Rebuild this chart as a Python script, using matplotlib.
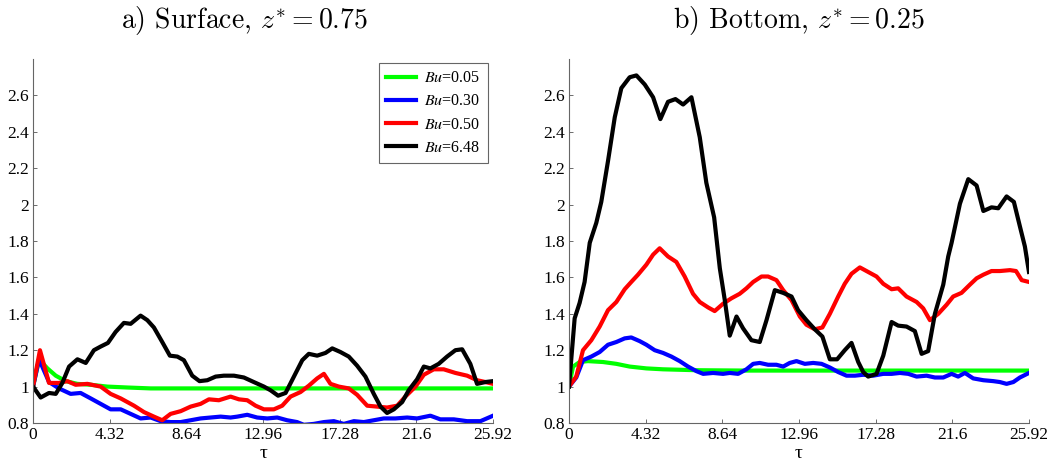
import matplotlib
matplotlib.use("Agg")
import matplotlib.pyplot as plt
from matplotlib.ticker import FuncFormatter

plt.rcParams['font.family'] = ['Liberation Serif', 'DejaVu Serif']
plt.rcParams['mathtext.fontset'] = 'stix'

labels = ['$Bu$=0.05', '$Bu$=0.30', '$Bu$=0.50', '$Bu$=6.48']
colors = ['#00ff00', '#0000ff', '#ff0000', '#000000']
xticks = [0, 4.32, 8.64, 12.96, 17.28, 21.6, 25.92]
xtick_labels = ['0', '4.32', '8.64', '12.96', '17.28', '21.6', '25.92']

# ---- a) Surface, z* = 0.75 ----
t_s_green = [0, 0.34, 0.81, 1.28, 1.84, 2.50, 3.25, 4.19, 5.31, 6.63, 10, 15, 20, 25.92]
v_s_green = [1.0, 1.15, 1.10, 1.06, 1.03, 1.015, 1.01, 1.0, 0.995, 0.99, 0.99, 0.99, 0.99, 0.99]

t_s_blue = [0, 0.34, 0.90, 1.46, 2.12, 2.68, 3.25, 3.81, 4.37, 4.94,
            5.50, 6.06, 6.63, 7.19, 7.75, 8.32, 8.88, 9.44, 10.00, 10.57,
            11.13, 11.51, 12.07, 12.63, 13.20, 13.76, 14.32, 14.88, 15.26, 15.82,
            16.39, 16.95, 17.51, 18.08, 18.64, 19.20, 19.76, 20.42, 21.08, 21.64,
            22.39, 22.95, 23.71, 24.46, 25.21, 25.92]
v_s_blue = [1.0, 1.15, 1.025, 0.99, 0.96, 0.965, 0.935, 0.905, 0.875, 0.875,
            0.85, 0.825, 0.83, 0.81, 0.805, 0.805, 0.815, 0.825, 0.83, 0.835,
            0.83, 0.835, 0.845, 0.83, 0.825, 0.83, 0.815, 0.805, 0.79, 0.795,
            0.805, 0.81, 0.795, 0.81, 0.805, 0.815, 0.825, 0.825, 0.83, 0.825,
            0.84, 0.82, 0.82, 0.81, 0.81, 0.84]

t_s_red = [0, 0.39, 0.90, 1.46, 1.93, 2.40, 3.06, 3.81, 4.37, 4.94,
           5.69, 6.25, 6.81, 7.28, 7.75, 8.32, 8.88, 9.44, 9.91, 10.47,
           11.13, 11.60, 12.07, 12.54, 13.01, 13.57, 14.04, 14.51, 15.07, 15.54,
           16.01, 16.39, 16.76, 17.23, 17.79, 18.26, 18.83, 19.39, 19.95, 20.52,
           20.98, 21.55, 22.02, 22.58, 23.14, 23.80, 24.46, 25.02, 25.49, 25.92]
v_s_red = [1.0, 1.2, 1.02, 1.02, 1.03, 1.01, 1.015, 1.0, 0.96, 0.935,
           0.895, 0.86, 0.835, 0.815, 0.85, 0.865, 0.89, 0.905, 0.93, 0.925,
           0.945, 0.93, 0.925, 0.895, 0.875, 0.875, 0.895, 0.945, 0.97, 1.005,
           1.045, 1.07, 1.015, 1.0, 0.99, 0.955, 0.895, 0.89, 0.885, 0.895,
           0.945, 1.0, 1.065, 1.095, 1.095, 1.075, 1.06, 1.035, 1.025, 1.015]

t_s_black = [0, 0.43, 0.90, 1.28, 1.65, 2.03, 2.50, 2.97, 3.43, 3.81,
             4.22, 4.65, 5.12, 5.50, 6.06, 6.44, 6.81, 7.28, 7.71, 8.13,
             8.50, 8.97, 9.38, 9.82, 10.29, 10.75, 11.32, 11.88, 12.44, 13.01,
             13.38, 13.81, 14.23, 14.70, 15.17, 15.54, 16.01, 16.48, 16.86, 17.32,
             17.79, 18.26, 18.73, 19.20, 19.58, 19.95, 20.33, 20.80, 21.17, 21.64,
             22.02, 22.39, 22.86, 23.33, 23.80, 24.18, 24.64, 25.02, 25.49, 25.92]
v_s_black = [1.0, 0.94, 0.965, 0.96, 1.02, 1.11, 1.15, 1.13, 1.2, 1.22,
             1.24, 1.30, 1.35, 1.345, 1.39, 1.365, 1.325, 1.245, 1.17, 1.165,
             1.145, 1.06, 1.03, 1.035, 1.055, 1.06, 1.06, 1.05, 1.025, 1.0,
             0.98, 0.95, 0.965, 1.055, 1.145, 1.18, 1.17, 1.185, 1.21, 1.19,
             1.165, 1.115, 1.055, 0.96, 0.89, 0.855, 0.875, 0.915, 0.98, 1.04,
             1.11, 1.10, 1.125, 1.165, 1.20, 1.205, 1.125, 1.015, 1.025, 1.03]

# ---- b) Bottom, z* = 0.25 ----
t_b_green = [0, 0.23, 0.60, 1.07, 1.92, 2.67, 3.42, 4.36, 5.30, 7.18, 10, 15, 20, 25.92]
v_b_green = [1.0, 1.11, 1.135, 1.14, 1.135, 1.125, 1.11, 1.10, 1.095, 1.09, 1.088, 1.088, 1.088, 1.088]

t_b_blue = [0, 0.41, 0.79, 1.26, 1.73, 2.20, 2.67, 3.14, 3.51, 3.98,
            4.36, 4.83, 5.30, 5.77, 6.24, 6.71, 7.18, 7.56, 8.12, 8.68,
            9.06, 9.53, 10.00, 10.38, 10.75, 11.22, 11.69, 12.07, 12.44, 12.82,
            13.29, 13.76, 14.23, 14.70, 15.17, 15.64, 16.11, 16.58, 17.14, 17.71,
            18.18, 18.65, 19.12, 19.59, 20.15, 20.62, 21.09, 21.56, 21.93, 22.31,
            22.78, 23.35, 23.91, 24.28, 24.66, 25.04, 25.41, 25.92]
v_b_blue = [1.0, 1.05, 1.145, 1.165, 1.19, 1.23, 1.245, 1.265, 1.27, 1.25,
            1.23, 1.20, 1.185, 1.165, 1.14, 1.11, 1.085, 1.07, 1.075, 1.07,
            1.075, 1.07, 1.095, 1.125, 1.13, 1.12, 1.12, 1.11, 1.13, 1.14,
            1.125, 1.13, 1.125, 1.105, 1.08, 1.06, 1.06, 1.065, 1.06, 1.07,
            1.07, 1.075, 1.07, 1.055, 1.06, 1.05, 1.05, 1.07, 1.055, 1.075,
            1.045, 1.035, 1.03, 1.025, 1.015, 1.025, 1.05, 1.075]

t_b_red = [0, 0.41, 0.79, 1.26, 1.73, 2.20, 2.67, 3.14, 3.51, 3.89,
           4.36, 4.74, 5.11, 5.58, 6.05, 6.52, 6.99, 7.37, 7.84, 8.21,
           8.68, 9.15, 9.62, 10.00, 10.38, 10.85, 11.22, 11.69, 12.07, 12.54,
           13.01, 13.38, 13.85, 14.28, 14.70, 15.17, 15.54, 15.92, 16.39, 16.86,
           17.33, 17.71, 18.18, 18.55, 19.02, 19.59, 19.96, 20.34, 20.81, 21.28,
           21.65, 22.12, 22.59, 22.97, 23.35, 23.81, 24.28, 24.85, 25.19, 25.51, 25.92]
v_b_red = [1.0, 1.055, 1.2, 1.255, 1.33, 1.42, 1.465, 1.535, 1.575, 1.615,
           1.67, 1.725, 1.76, 1.715, 1.685, 1.605, 1.51, 1.465, 1.435, 1.415,
           1.455, 1.485, 1.51, 1.54, 1.575, 1.605, 1.605, 1.585, 1.53, 1.475,
           1.385, 1.34, 1.315, 1.325, 1.40, 1.495, 1.565, 1.62, 1.655, 1.63,
           1.605, 1.565, 1.535, 1.54, 1.495, 1.465, 1.43, 1.365, 1.40, 1.45,
           1.495, 1.515, 1.56, 1.595, 1.615, 1.635, 1.635, 1.64, 1.635, 1.585, 1.575]

t_b_black = [0, 0.32, 0.60, 0.88, 1.17, 1.54, 1.82, 2.20, 2.58, 2.95,
             3.42, 3.80, 4.27, 4.74, 5.15, 5.58, 6.00, 6.43, 6.90, 7.37,
             7.74, 8.18, 8.50, 8.78, 9.06, 9.44, 9.81, 10.28, 10.75, 11.13,
             11.60, 12.07, 12.54, 12.91, 13.38, 13.85, 14.28, 14.70, 15.11, 15.54,
             15.92, 16.30, 16.58, 16.86, 17.33, 17.71, 18.18, 18.55, 19.02, 19.49,
             19.87, 20.24, 20.62, 21.09, 21.37, 21.56, 22.03, 22.50, 22.97, 23.35,
             23.81, 24.19, 24.66, 25.07, 25.41, 25.69, 25.92]
v_b_black = [1.0, 1.375, 1.46, 1.575, 1.79, 1.90, 2.015, 2.24, 2.48, 2.64,
             2.70, 2.71, 2.66, 2.59, 2.47, 2.565, 2.58, 2.55, 2.59, 2.37,
             2.12, 1.93, 1.65, 1.475, 1.28, 1.385, 1.32, 1.255, 1.245, 1.365,
             1.53, 1.515, 1.495, 1.42, 1.365, 1.315, 1.275, 1.15, 1.15, 1.20,
             1.24, 1.135, 1.08, 1.055, 1.07, 1.17, 1.355, 1.335, 1.33, 1.305,
             1.18, 1.195, 1.40, 1.56, 1.715, 1.79, 2.005, 2.14, 2.105, 1.965,
             1.985, 1.98, 2.045, 2.015, 1.88, 1.77, 1.63]

surface = [(t_s_green, v_s_green), (t_s_blue, v_s_blue), (t_s_red, v_s_red), (t_s_black, v_s_black)]
bottom = [(t_b_green, v_b_green), (t_b_blue, v_b_blue), (t_b_red, v_b_red), (t_b_black, v_b_black)]

fig = plt.figure(figsize=(10.49, 4.66), dpi=100)
ax1 = fig.add_axes([0.0315, 0.0923, 0.4385, 0.781])
ax2 = fig.add_axes([0.5424, 0.0923, 0.4385, 0.781])

for ax, series, title, tx in [(ax1, surface, r'a) Surface, $z^{*}=0.75$', 0.459),
                              (ax2, bottom, r'b) Bottom, $z^{*}=0.25$', 0.5)]:
    for (t, v), c, lab in zip(series, colors, labels):
        ax.plot(t, v, color=c, lw=3, label=lab, solid_joinstyle='round')
    ax.set_xlim(0, 25.92)
    ax.set_ylim(0.8, 2.8)
    ax.set_xticks(xticks, xtick_labels)
    ax.set_yticks([0.8, 1.0, 1.2, 1.4, 1.6, 1.8, 2.0, 2.2, 2.4, 2.6])
    ax.yaxis.set_major_formatter(FuncFormatter(lambda y, p: '%g' % round(y, 2)))
    ax.tick_params(direction='in', length=3, width=0.6, color='#555555', labelsize=12.5, pad=3)
    for s in ['top', 'right']:
        ax.spines[s].set_visible(False)
    for s in ['left', 'bottom']:
        ax.spines[s].set_color('#666666')
        ax.spines[s].set_linewidth(0.8)
    ax.set_xlabel('τ', fontsize=14, labelpad=1.5)
    t = ax.set_title(title, fontsize=20, family='cmr10', math_fontfamily='cm', pad=22)
    t.set_x(tx)

leg = ax1.legend(loc='upper right', bbox_to_anchor=(0.989, 0.989), fontsize=11.5,
                 fancybox=False, edgecolor='#666666', framealpha=1,
                 handlelength=1.9, handletextpad=0.5, labelspacing=0.45,
                 borderpad=0.45, borderaxespad=0)
leg.get_frame().set_linewidth(0.8)

fig.savefig('out.png', dpi=100)
